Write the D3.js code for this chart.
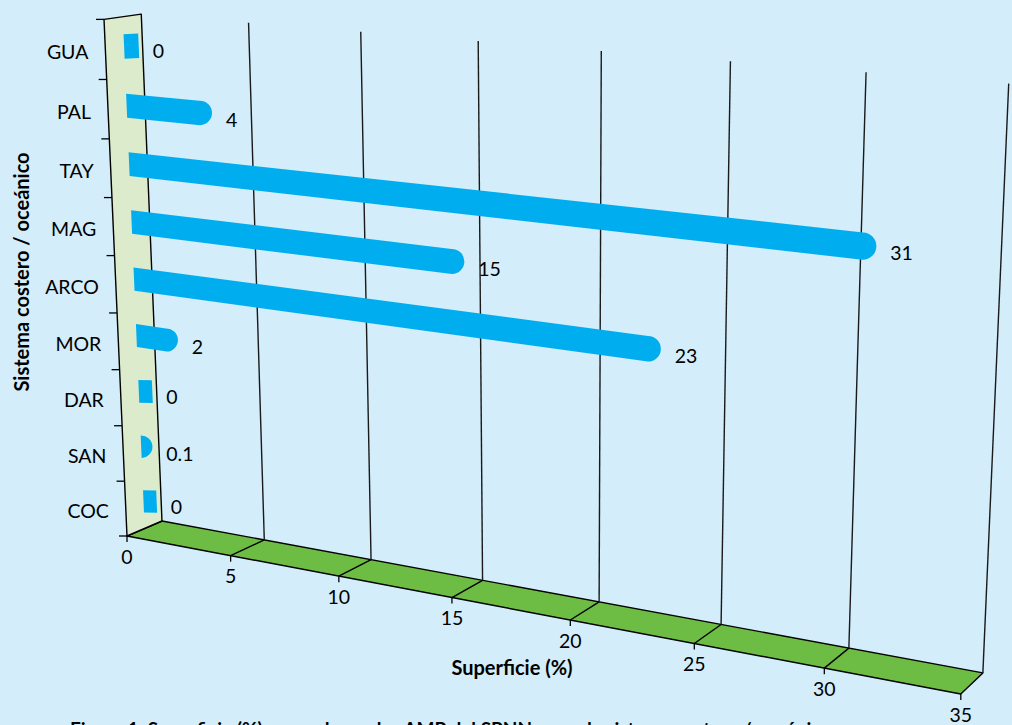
<!DOCTYPE html>
<html>
<head>
<meta charset="utf-8">
<script src="https://cdnjs.cloudflare.com/ajax/libs/d3/7.8.5/d3.min.js"></script>
<style>
  body { margin: 0; background: #d3edfa; }
  svg { display: block; font-family: Lato, "Open Sans", sans-serif; }
</style>
</head>
<body>
<svg id="Chart"></svg>
<script>
// categories from the bottom of the wall to the top
let categories = ["COC", "SAN", "DAR", "MOR", "ARCO", "MAG", "TAY", "PAL", "GUA"];
let values = [0, 0.1, 0, 2, 23, 15, 31, 4, 0];
let valueLabels = ["0", "0.1", "0", "2", "23", "15", "31", "4", "0"];
let xTicks = [0, 5, 10, 15, 20, 25, 30, 35];

function getChartConfig() {
  let width = 1012;
  let height = 725;
  let container = d3.select("#Chart")
    .attr("width", width)
    .attr("height", height)

  // perspective view: where the origin lands plus the three vanishing points and their weights
  let view = {
    origin: [127, 536],
    vx: [-4654, -370], wx: -0.1485,
    vy: [561, 10290], wy: -0.0503,
    vz: [1937, -240], wz: 0.0197
  }
  let barDepth = 0.5;      // bars sit half way into the box
  let barThickness = 0.41; // share of the category band
  return { width, height, container, view, barDepth, barThickness }
}

function getProjection(view) {
  // x = value axis, y = up, z = depth, all in 0..1
  return function(x, y, z) {
    let w = 1 + view.wx * x + view.wy * y + view.wz * z;
    let px = view.origin[0] + view.wx * x * view.vx[0] + view.wy * y * view.vy[0] + view.wz * z * view.vz[0];
    let py = view.origin[1] + view.wx * x * view.vx[1] + view.wy * y * view.vy[1] + view.wz * z * view.vz[1];
    return [px / w, py / w];
  }
}

function getChartScales() {
  let xScale = d3.scaleLinear()
    .domain([0, 35])
    .range([0, 1])
  let yScale = d3.scaleBand()
    .domain(categories)
    .range([0, 1])
  return { xScale, yScale }
}

let poly = pts => "M" + pts.map(p => p[0] + "," + p[1]).join("L") + "Z";
let seg = (a, b) => `M${a[0]},${a[1]}L${b[0]},${b[1]}`;

function drawBox(config, scales, project) {
  let { container } = config;
  let { xScale } = scales;
  let g = container.append("g")

  // floor
  g.append("path")
    .attr("d", poly([project(0, 0, 0), project(1, 0, 0), project(1, 0, 1), project(0, 0, 1)]))
    .attr("fill", "#6dbd45")
    .attr("stroke", "#000")
    .attr("stroke-width", 1.4)
    .attr("stroke-linejoin", "round")

  // left wall
  g.append("path")
    .attr("d", poly([project(0, 0, 0), project(0, 1, 0), project(0, 1, 1), project(0, 0, 1)]))
    .attr("fill", "#dbebcc")
    .attr("stroke", "#000")
    .attr("stroke-width", 1.4)
    .attr("stroke-linejoin", "round")

  // lines across the floor
  g.selectAll(".floorline")
    .data(xTicks.filter(t => t > 0 && t < 35))
    .enter().append("path")
    .attr("d", t => seg(project(xScale(t), 0, 0), project(xScale(t), 0, 1)))
    .attr("stroke", "#000")
    .attr("stroke-width", 1.4)

  // vertical gridlines on the back
  g.selectAll(".gridline")
    .data(xTicks.filter(t => t > 0))
    .enter().append("path")
    .attr("d", t => seg(project(xScale(t), 0, 1), project(xScale(t), 1, 1)))
    .attr("stroke", "#1a1a1a")
    .attr("stroke-width", 1.4)
}

function drawAxes(config, scales, project) {
  let { container } = config;
  let { xScale, yScale } = scales;
  let g = container.append("g")

  // value axis along the front edge of the floor
  let xt = g.selectAll(".xtick")
    .data(xTicks)
    .enter().append("g")
    .attr("transform", t => { let p = project(xScale(t), 0, 0); return `translate(${p[0]},${p[1]})` })
  xt.append("line")
    .attr("y2", 6)
    .attr("stroke", "#000")
    .attr("stroke-width", 1.3)
  xt.append("text")
    .attr("y", 20)
    .attr("text-anchor", "middle")
    .attr("dominant-baseline", "central")
    .style("font-size", "19.5px")
    .text(t => t)

  // category axis on the front edge of the wall
  let yTickPos = categories.map(c => yScale(c)).concat([1]);
  g.selectAll(".ytick")
    .data(yTickPos)
    .enter().append("line")
    .attr("x1", y => project(0, y, 0)[0] - 8)
    .attr("x2", y => project(0, y, 0)[0])
    .attr("y1", y => project(0, y, 0)[1])
    .attr("y2", y => project(0, y, 0)[1])
    .attr("stroke", "#000")
    .attr("stroke-width", 1.3)

  g.selectAll(".ylabel")
    .data(categories)
    .enter().append("text")
    .attr("x", c => project(0, yScale(c) + yScale.bandwidth() / 2, 0)[0] - 17)
    .attr("y", c => project(0, yScale(c) + yScale.bandwidth() / 2, 0)[1] + 2)
    .attr("text-anchor", "end")
    .attr("dominant-baseline", "central")
    .style("font-size", "19.5px")
    .text(c => c)

  // titles
  container.append("text")
    .attr("transform", "translate(21,272) rotate(-90)")
    .attr("text-anchor", "middle")
    .attr("dominant-baseline", "central")
    .style("font-size", "20px")
    .style("font-weight", "bold")
    .text("Sistema costero / oceánico")

  container.append("text")
    .attr("x", 512)
    .attr("y", 675)
    .attr("text-anchor", "middle")
    .style("font-size", "20px")
    .style("font-weight", "bold")
    .text("Superficie (%)")

  // figure caption, cut by the bottom edge as in the source
  container.append("text")
    .attr("x", 70)
    .attr("y", 736)
    .style("font-size", "19px")
    .style("font-weight", "bold")
    .text("Figura 1. Superficie (%) ocupada por las AMP del SPNN en cada sistema costero / oceánico")
}

function drawBars(config, scales, project) {
  let { container, barDepth, barThickness } = config;
  let { xScale, yScale } = scales;
  let bars = categories.map((c, i) => ({ category: c, value: values[i], label: valueLabels[i] }));

  bars.forEach(d => {
    let yc = yScale(d.category) + yScale.bandwidth() / 2;
    let half = yScale.bandwidth() * barThickness / 2;
    let x1 = xScale(d.value);
    let top0 = project(0, yc + half, barDepth), bot0 = project(0, yc - half, barDepth);
    let top1 = project(x1, yc + half, barDepth), bot1 = project(x1, yc - half, barDepth);
    let mid0 = project(0, yc, barDepth);
    let mid1 = project(x1, yc, barDepth);
    let ref = project(xScale(1), yc, barDepth);
    let len = Math.hypot(mid1[0] - mid0[0], mid1[1] - mid0[1]);
    let dx = (ref[0] - mid0[0]), dy = (ref[1] - mid0[1]);
    let dl = Math.hypot(dx, dy);
    dx /= dl; dy /= dl;
    let r = Math.hypot(top1[0] - bot1[0], top1[1] - bot1[1]) / 2;
    let path, tip;

    if (d.value === 0) {
      // empty value: a thin flat stub
      let w = r * 1.2;
      let a = [top0[0] + w * dx, top0[1] + w * dy - 2], b = [bot0[0] + w * dx, bot0[1] + w * dy - 2];
      path = poly([top0, a, b, bot0]);
      tip = [(a[0] + b[0]) / 2, (a[1] + b[1]) / 2];
    } else {
      let bt, bb;
      if (len >= r) {
        bt = [top1[0] - r * dx, top1[1] - r * dy];
        bb = [bot1[0] - r * dx, bot1[1] - r * dy];
      } else {
        bt = top0; bb = bot0;
      }
      let rr = Math.hypot(bt[0] - bb[0], bt[1] - bb[1]) / 2;
      path = `M${top0[0]},${top0[1]}L${bt[0]},${bt[1]}A${rr},${rr} 0 0 1 ${bb[0]},${bb[1]}L${bot0[0]},${bot0[1]}Z`;
      tip = [(bt[0] + bb[0]) / 2 + rr * dx, (bt[1] + bb[1]) / 2 + rr * dy];
    }

    container.append("path")
      .attr("d", path)
      .attr("fill", "#00aeef")

    container.append("text")
      .attr("x", tip[0] + 14)
      .attr("y", tip[1] + 5)
      .attr("dominant-baseline", "central")
      .style("font-size", "19.5px")
      .text(d.label)
  })
}

function drawChart() {
  let config = getChartConfig();
  let project = getProjection(config.view);
  let scales = getChartScales();
  drawBox(config, scales, project);
  drawAxes(config, scales, project);
  drawBars(config, scales, project);
}

drawChart();
</script>
</body>
</html>
